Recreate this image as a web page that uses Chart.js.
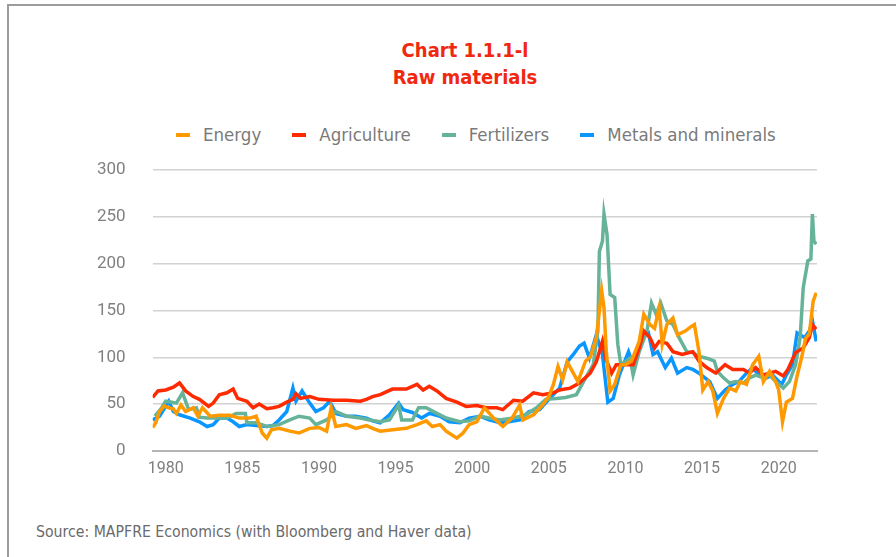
<!DOCTYPE html>
<html>
<head>
<meta charset="utf-8">
<script src="https://cdn.jsdelivr.net/npm/chart.js@4.4.1/dist/chart.umd.min.js"></script>
<style>
  html, body { margin: 0; padding: 0; background: #fff; }
  body { width: 896px; height: 557px; position: relative; overflow: hidden; }
  .frame { position: absolute; left: 7px; top: 4px; width: 900px; height: 600px;
           border-top: 2px solid #9c9c9c; border-left: 2px solid #9c9c9c; }
  .title { position: absolute; left: 315px; width: 300px; text-align: center;
           font-family: "DejaVu Sans Condensed", "DejaVu Sans"; font-stretch: condensed;
           font-weight: bold; font-size: 20px; color: #f0280f; line-height: 24px; }
  #legend { position: absolute; left: 176px; top: 124px; display: flex; align-items: center;
            font-family: "DejaVu Sans Condensed", "DejaVu Sans"; font-stretch: condensed;
            font-size: 18.5px; color: #7a7a7a; }
  #legend .item { display: flex; align-items: center; margin-right: 31px; }
  #legend .mark { width: 14px; height: 4px; margin-right: 13px; }
  #wrap { position: absolute; left: 0; top: 160px; width: 896px; height: 319px; }
  .source { position: absolute; left: 36px; top: 522px;
            font-family: "DejaVu Sans Condensed", "DejaVu Sans"; font-stretch: condensed;
            font-size: 15.7px; color: #6a6a6a; }
</style>
</head>
<body>
<div class="frame"></div>
<div class="title" style="top:38px">Chart 1.1.1-l</div>
<div class="title" style="top:65px">Raw materials</div>
<div id="legend"></div>
<div id="wrap"><canvas id="rawChart"></canvas></div>
<div class="source">Source: MAPFRE Economics (with Bloomberg and Haver data)</div>
<script>
// [year, index value] per series
const energy = [
  [1979.15, 25], [1979.35, 30], [1979.6, 42], [1979.9, 48], [1980.2, 46], [1980.5, 45], [1980.7, 40],
  [1981.0, 49], [1981.3, 42], [1981.8, 46], [1982.1, 37], [1982.4, 46], [1982.9, 37], [1983.5, 38],
  [1984.2, 38], [1984.8, 35], [1985.5, 35], [1985.9, 37], [1986.3, 19], [1986.6, 13.5], [1986.9, 22.5],
  [1987.4, 24], [1988.1, 21], [1988.7, 19], [1989.4, 24], [1990.0, 25], [1990.5, 21], [1990.8, 46],
  [1991.1, 26], [1991.8, 28], [1992.4, 24], [1993.1, 27], [1993.5, 24], [1994.0, 21], [1994.8, 22.5],
  [1995.7, 24], [1996.4, 28], [1997.0, 32], [1997.4, 26], [1997.9, 28], [1998.3, 21], [1999.0, 13.5],
  [1999.4, 19], [1999.8, 28], [2000.3, 31], [2000.8, 46], [2001.4, 35], [2002.0, 26], [2002.6, 35],
  [2003.1, 49], [2003.3, 33], [2004.0, 38.5], [2004.6, 49], [2005.0, 58], [2005.3, 71], [2005.6, 90],
  [2005.9, 76], [2006.2, 95], [2006.6, 83], [2006.9, 74], [2007.4, 96], [2007.7, 100], [2008.1, 121],
  [2008.45, 171], [2008.6, 153], [2008.75, 106], [2009.0, 64], [2009.3, 71], [2009.7, 92], [2010.0, 92],
  [2010.4, 96], [2010.9, 117], [2011.2, 146], [2011.6, 135], [2011.9, 131], [2012.2, 153], [2012.4, 114],
  [2012.7, 135], [2013.1, 142], [2013.4, 124], [2013.9, 128], [2014.3, 133], [2014.5, 135], [2014.8, 106],
  [2015.05, 65], [2015.4, 74], [2015.7, 64], [2016.0, 40], [2016.4, 56], [2016.8, 67], [2017.2, 64],
  [2017.5, 74], [2017.9, 71], [2018.3, 92], [2018.7, 101], [2019.0, 74], [2019.4, 85], [2019.8, 74],
  [2020.0, 65], [2020.25, 31], [2020.5, 52], [2020.9, 56], [2021.2, 80], [2021.5, 100], [2021.75, 120],
  [2022.0, 125], [2022.25, 160], [2022.45, 169]
];

const agriculture = [
  [1979.15, 57], [1979.5, 64], [1980.0, 65], [1980.5, 68], [1980.9, 72.5], [1981.3, 64], [1981.8, 58],
  [1982.2, 55], [1982.8, 47.5], [1983.1, 51], [1983.5, 60], [1984.0, 62], [1984.4, 66], [1984.7, 56],
  [1985.3, 53], [1985.7, 46], [1986.1, 50], [1986.6, 45], [1987.0, 46], [1987.4, 47.5], [1987.9, 52],
  [1988.3, 55], [1988.5, 61], [1988.8, 56], [1989.4, 58], [1990.0, 55], [1990.9, 54], [1991.8, 54],
  [1992.7, 53], [1993.1, 55], [1993.5, 58], [1994.0, 60], [1994.8, 66], [1995.7, 66], [1996.4, 71],
  [1996.8, 65], [1997.2, 69], [1997.7, 64], [1998.3, 56], [1999.0, 52], [1999.6, 47.5], [2000.3, 48.5],
  [2000.9, 46], [2001.6, 46], [2002.0, 44], [2002.7, 54], [2003.3, 53], [2004.0, 62], [2004.6, 60],
  [2005.3, 62], [2005.7, 65], [2006.4, 67], [2007.0, 72.5], [2007.7, 83], [2008.1, 95], [2008.5, 117],
  [2008.7, 99], [2009.1, 83], [2009.4, 92], [2009.8, 92], [2010.5, 92], [2010.9, 110], [2011.2, 128],
  [2011.6, 121], [2011.9, 110], [2012.2, 117], [2012.7, 115], [2013.1, 106], [2013.7, 103], [2014.4, 106],
  [2014.8, 96], [2015.3, 89], [2015.9, 83], [2016.5, 92], [2017.0, 87], [2017.7, 87], [2018.1, 83],
  [2018.5, 89], [2019.0, 81], [2019.4, 83], [2019.8, 85], [2020.3, 80], [2020.6, 87], [2021.1, 105],
  [2021.6, 110], [2022.0, 121], [2022.2, 135], [2022.45, 130]
];

const fertilizers = [
  [1979.3, 37], [1979.7, 45], [1980.0, 53], [1980.4, 52], [1980.7, 51], [1981.1, 62], [1981.5, 44],
  [1982.0, 46], [1982.2, 36], [1982.7, 35], [1983.3, 35], [1984.0, 35], [1984.6, 40], [1985.2, 40],
  [1985.3, 30], [1985.9, 30], [1986.6, 26], [1987.4, 28], [1988.1, 33], [1988.7, 37], [1989.4, 35],
  [1989.8, 28], [1990.5, 33], [1991.1, 42], [1991.8, 37], [1992.7, 35], [1993.3, 33], [1994.0, 31],
  [1994.6, 33], [1995.2, 49], [1995.4, 33], [1996.1, 33], [1996.5, 46], [1997.0, 46], [1997.7, 40],
  [1998.3, 35], [1999.2, 31], [1999.8, 32], [2000.5, 37], [2001.1, 35], [2001.8, 33], [2002.7, 35],
  [2003.5, 38.5], [2004.2, 46], [2004.8, 55], [2005.5, 56], [2006.1, 57], [2006.8, 60], [2007.4, 78],
  [2007.9, 92], [2008.2, 128], [2008.3, 213], [2008.5, 224], [2008.6, 253], [2008.8, 231], [2009.0, 167],
  [2009.3, 164], [2009.5, 114], [2009.7, 92], [2010.3, 99], [2010.5, 81], [2010.9, 106], [2011.4, 128],
  [2011.7, 158], [2012.0, 146], [2012.3, 158], [2012.7, 139], [2013.1, 135], [2013.5, 121], [2014.0, 106],
  [2014.4, 105], [2014.8, 101], [2015.3, 99], [2015.8, 96], [2016.0, 85], [2016.4, 78], [2016.8, 72.5],
  [2017.2, 74], [2017.7, 72.5], [2018.1, 78], [2018.5, 81], [2019.0, 78], [2019.4, 81], [2019.8, 74],
  [2020.3, 67], [2020.7, 74], [2021.1, 92], [2021.4, 121], [2021.6, 174], [2021.9, 203], [2022.1, 205],
  [2022.2, 253], [2022.3, 224], [2022.45, 221]
];

const metals = [
  [1979.15, 33], [1979.6, 37], [1980.2, 53], [1980.5, 42], [1980.9, 38.5], [1981.6, 35], [1982.2, 31],
  [1982.7, 26], [1983.1, 28], [1983.5, 35], [1984.0, 35], [1984.4, 31], [1984.8, 26], [1985.3, 28],
  [1985.9, 27], [1986.6, 26], [1987.0, 27], [1987.4, 33], [1987.9, 42], [1988.3, 67], [1988.5, 53],
  [1988.9, 64], [1989.4, 51], [1989.8, 42], [1990.3, 46], [1990.7, 53], [1991.1, 40], [1991.8, 37],
  [1992.4, 37], [1993.1, 35], [1993.5, 32], [1994.0, 30], [1994.6, 38.5], [1995.2, 51], [1995.5, 44],
  [1996.1, 41], [1996.7, 35], [1997.2, 40], [1997.9, 37], [1998.5, 31], [1999.2, 30], [1999.8, 35],
  [2000.5, 37], [2001.1, 33], [2001.8, 30], [2002.4, 31], [2003.1, 33], [2003.7, 42], [2004.4, 44],
  [2005.0, 55], [2005.7, 67], [2006.2, 95], [2006.6, 103], [2007.0, 112], [2007.3, 115], [2007.65, 99],
  [2008.1, 124], [2008.5, 103], [2008.85, 52], [2009.2, 56], [2009.6, 81], [2010.2, 106], [2010.5, 92],
  [2011.1, 121], [2011.5, 126], [2011.8, 103], [2012.1, 106], [2012.6, 89], [2013.0, 99], [2013.4, 83],
  [2014.0, 89], [2014.4, 87], [2014.8, 83], [2015.5, 74], [2016.0, 56], [2016.5, 65], [2017.0, 71],
  [2017.4, 74], [2017.9, 83], [2018.3, 89], [2018.7, 81], [2019.2, 78], [2019.6, 81], [2020.2, 71],
  [2020.5, 81], [2020.9, 92], [2021.2, 126], [2021.7, 121], [2022.0, 128], [2022.2, 139], [2022.45, 117]
];

const seriesNames = ['Energy', 'Agriculture', 'Fertilizers', 'Metals and minerals'];
const seriesColors = ['#ff9900', '#ff2a00', '#66b399', '#0996ff'];
const yearTicks = [1980, 1985, 1990, 1995, 2000, 2005, 2010, 2015, 2020];

const toPoints = (rows) => rows.map(([x, y]) => ({ x, y }));

const datasets = [energy, agriculture, fertilizers, metals].map((rows, i) => ({
  label: seriesNames[i],
  data: toPoints(rows),
  borderColor: seriesColors[i],
  backgroundColor: seriesColors[i],
  borderWidth: 3.5,
  pointRadius: 0,
  tension: 0,
  fill: false
}));

// legend is drawn in html, same order as the datasets
const legendEl = document.getElementById('legend');
datasets.forEach(ds => {
  const item = document.createElement('div');
  item.className = 'item';
  item.innerHTML = `<span class="mark" style="background:${ds.borderColor}"></span><span>${ds.label}</span>`;
  legendEl.appendChild(item);
});

const clear = 'rgba(0,0,0,0)';

const ctx = document.getElementById('rawChart').getContext('2d');
const rawChart = new Chart(ctx, {
  type: 'line',
  data: { datasets },
  options: {
    responsive: true,
    maintainAspectRatio: false,
    animation: false,
    layout: { padding: { left: 97, right: 79, top: 0, bottom: 0 } },
    plugins: { legend: { display: false }, tooltip: { enabled: false } },
    scales: {
      x: {
        type: 'linear',
        min: 1979.15,
        max: 2022.5,
        afterBuildTicks: (scale) => { scale.ticks = yearTicks.map(v => ({ value: v })); },
        // invisible tick marks give the gap between the axis and its labels
        grid: { drawOnChartArea: false, drawTicks: true, tickLength: 9, tickColor: clear, color: clear },
        border: { display: true, color: '#b4b4b4', width: 2, dash: [2, 1] },
        ticks: {
          callback: (v) => String(v),
          padding: 0,
          maxRotation: 0,
          color: '#808080',
          font: { family: 'Roboto', size: 16 }
        }
      },
      y: {
        min: 0,
        max: 300,
        ticks: {
          stepSize: 50,
          padding: 0,
          color: '#808080',
          font: { family: 'Roboto', size: 17 }
        },
        grid: {
          drawTicks: true,
          tickLength: 27,
          tickColor: clear,
          lineWidth: 1.5,
          color: (c) => c.tick && c.tick.value === 0 ? clear : '#d2d2d2'
        },
        border: { display: false }
      }
    }
  }
});
</script>
</body>
</html>
